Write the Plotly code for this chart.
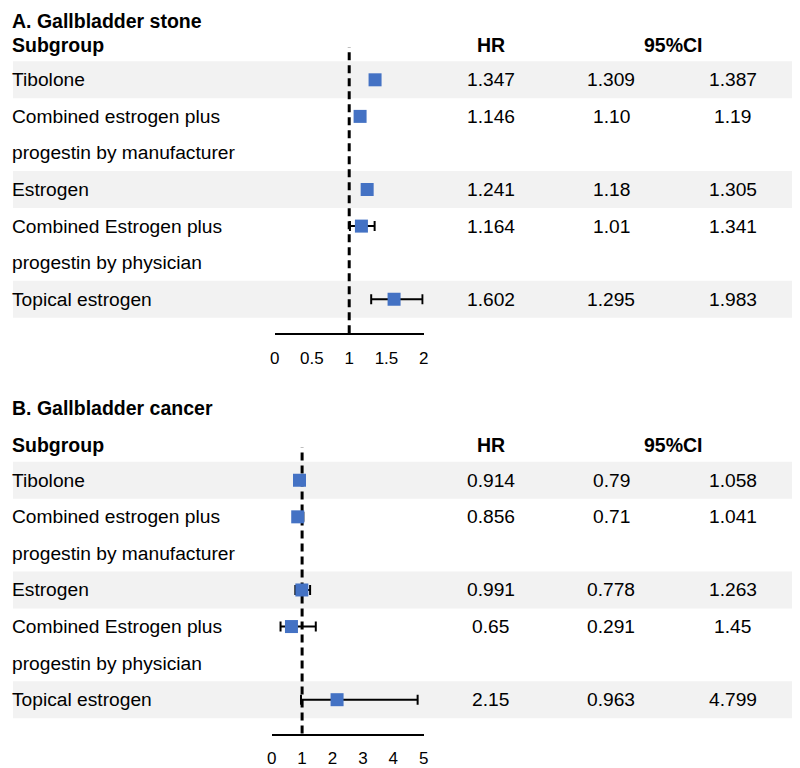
import plotly.graph_objects as go

# ---------------- data ----------------
subgroups = [
    ["Tibolone"],
    ["Combined estrogen plus", "progestin by manufacturer"],
    ["Estrogen"],
    ["Combined Estrogen plus", "progestin by physician"],
    ["Topical estrogen"],
]

stone_hr = ["1.347", "1.146", "1.241", "1.164", "1.602"]
stone_lo = ["1.309", "1.10", "1.18", "1.01", "1.295"]
stone_hi = ["1.387", "1.19", "1.305", "1.341", "1.983"]

cancer_hr = ["0.914", "0.856", "0.991", "0.65", "2.15"]
cancer_lo = ["0.79", "0.71", "0.778", "0.291", "0.963"]
cancer_hi = ["1.058", "1.041", "1.263", "1.45", "4.799"]

stone_ticks = ["0", "0.5", "1", "1.5", "2"]
cancer_ticks = ["0", "1", "2", "3", "4", "5"]

panel_titles = ["A. Gallbladder stone", "B. Gallbladder cancer"]

# ---------------- layout helpers ----------------
# the page body has an 8px margin, so the figure is drawn 8px in from the
# top-left corner of the window; size the figure to fill the rest.
PAGE_OFF = 8
W, H = 800 - PAGE_OFF, 768 - PAGE_OFF


def PX(px):
    return (px - PAGE_OFF) / W


def PY(py):
    return 1 - (py - PAGE_OFF) / H


FONT = "Liberation Sans, Arial, sans-serif"
TXT = 19.2
HEAD = 19.5
PITCH = 36.67          # px per text line
LINE0 = 80.0           # window px of first row line (panel A)
AXIS_PX = 334.0        # window px of x axis line (panel A)
TOP_PX = 47.0          # window px of top of reference line (panel A)
OFFSETS = [0.0, 401.5]
BLUE = "#4472C4"

row_start = []
pos = 0
for lines in subgroups:
    row_start.append(pos)
    pos += len(lines)

y_lo = (AXIS_PX - LINE0) / PITCH
y_hi = (TOP_PX - LINE0) / PITCH

fig = go.Figure()
annotations = []
shapes = []

panels = [
    dict(hr=stone_hr, lo=stone_lo, hi=stone_hi, ticks=stone_ticks,
         xdom=[PX(273), PX(424)], rng=[0, 2]),
    dict(hr=cancer_hr, lo=cancer_lo, hi=cancer_hi, ticks=cancer_ticks,
         xdom=[PX(270), PX(424)], rng=[0, 5]),
]

col_x = [PX(492), PX(614), PX(737)]


def txt(text, x, y, anchor="left", size=TXT, yanchor="middle"):
    return dict(text=text, xref="paper", x=x, xanchor=anchor,
                yref="paper", y=y, yanchor=yanchor, showarrow=False,
                font=dict(size=size, family=FONT, color="black"))


for i, p in enumerate(panels):
    off = OFFSETS[i]
    xa = "x" if i == 0 else "x2"
    ya = "y" if i == 0 else "y2"
    xkey = "xaxis" if i == 0 else "xaxis2"
    ykey = "yaxis" if i == 0 else "yaxis2"

    hr = [float(v) for v in p["hr"]]
    lo = [float(v) for v in p["lo"]]
    hi = [float(v) for v in p["hi"]]

    fig.add_trace(go.Scatter(
        x=hr, y=row_start, mode="markers",
        marker=dict(symbol="square", size=13, color=BLUE, line=dict(width=0)),
        error_x=dict(type="data", symmetric=False,
                     array=[h - m for h, m in zip(hi, hr)],
                     arrayminus=[m - l for m, l in zip(hr, lo)],
                     color="black", thickness=2, width=5),
        xaxis=xa, yaxis=ya, showlegend=False, cliponaxis=False,
        hoverinfo="skip",
    ))

    fig.layout[xkey] = dict(
        domain=p["xdom"], range=p["rng"], anchor=ya,
        tickmode="array", tickvals=[float(t) for t in p["ticks"]],
        ticktext=p["ticks"], ticks="", ticklabelstandoff=8,
        tickfont=dict(size=17, family=FONT, color="black"),
        showline=True, linecolor="black", linewidth=2,
        showgrid=False, zeroline=False, fixedrange=True,
    )
    fig.layout[ykey] = dict(
        domain=[PY(AXIS_PX + off), PY(TOP_PX + off)],
        range=[y_lo, y_hi], anchor=xa, visible=False,
        showgrid=False, zeroline=False, fixedrange=True,
    )

    # grey bands for alternate subgroups
    for k, r in enumerate(row_start):
        if k % 2 == 0:
            shapes.append(dict(type="rect", xref="paper", x0=0, x1=1,
                               yref=ya, y0=r - 0.505, y1=r + 0.505,
                               fillcolor="#F2F2F2", line=dict(width=0),
                               layer="below"))
    # reference line at HR = 1
    shapes.append(dict(type="line", xref=xa, x0=1, x1=1,
                       yref=ya + " domain", y0=0, y1=1,
                       line=dict(color="black", width=3, dash="8px,5px"),
                       layer="below"))

    # title (kept inside the figure so it is not clipped at the top)
    if i == 0:
        annotations.append(txt("<b>" + panel_titles[i] + "</b>", PX(5), 1.0,
                               size=HEAD, yanchor="top"))
    else:
        annotations.append(txt("<b>" + panel_titles[i] + "</b>", PX(5), PY(409),
                               size=HEAD))
    annotations.append(txt("<b>Subgroup</b>", PX(5), PY(45 + off), size=HEAD))
    annotations.append(txt("<b>HR</b>", PX(492), PY(45 + off), "center", HEAD))
    annotations.append(txt("<b>95%CI</b>", PX(677), PY(45 + off), "center", HEAD))

    # row labels and numbers
    for k, lines in enumerate(subgroups):
        r = row_start[k]
        for j, ln in enumerate(lines):
            annotations.append(txt(ln, PX(5), PY(LINE0 + off + (r + j) * PITCH)))
        for cx, col in zip(col_x, [p["hr"], p["lo"], p["hi"]]):
            annotations.append(txt(col[k], cx, PY(LINE0 + off + r * PITCH), "center"))

fig.update_layout(
    width=W, height=H, margin=dict(l=0, r=0, t=0, b=0),
    paper_bgcolor="white", plot_bgcolor="rgba(0,0,0,0)",
    shapes=shapes, annotations=annotations, showlegend=False,
    font=dict(family=FONT, color="black"),
)

fig.write_html("out.html")
